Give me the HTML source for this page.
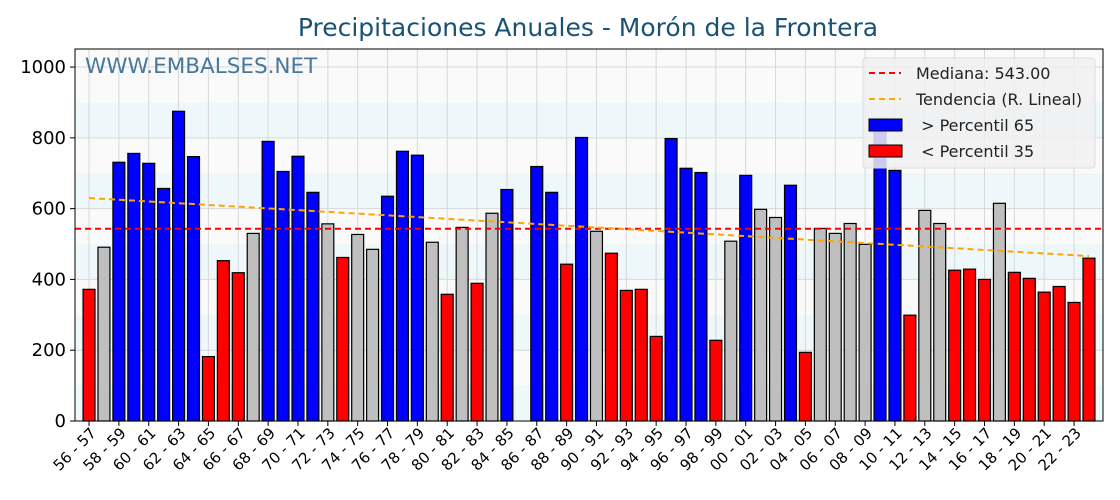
<!DOCTYPE html>
<html><head><meta charset="utf-8"><style>
html,body{margin:0;padding:0;background:#fff;}
svg{display:block;font-family:"DejaVu Sans","Liberation Sans",sans-serif;}
</style></head><body>
<svg id="chart" width="1120" height="500" viewBox="0 0 1120 500">
<text x="588" y="36" text-anchor="middle" font-size="25" fill="#1a5276">Precipitaciones Anuales - Morón de la Frontera</text>
<g id="bands"></g>
<g id="grid"></g>
<text x="85" y="73" font-size="21.5" fill="#3f7296" opacity="0.95">WWW.EMBALSES.NET</text>
<g id="bars"></g>
<g id="lines"></g>
<g id="axes"></g>
<g id="legend">
<rect x="863" y="58" width="232" height="110" rx="3" fill="#f0f0f0" fill-opacity="0.85" stroke="#dddddd"/>
<g><line x1="869" y1="73" x2="901" y2="73" stroke="#ff0000" stroke-width="2" stroke-dasharray="6,4"/><text x="916" y="79" font-size="16" fill="#222">Mediana: 543.00</text></g>
<g><line x1="869" y1="99" x2="901" y2="99" stroke="#ffa500" stroke-width="2" stroke-dasharray="6,4"/><text x="916" y="105" font-size="16" fill="#222">Tendencia (R. Lineal)</text></g>
<g><rect x="869" y="119" width="33" height="12" fill="#0000ff" stroke="#000"/><text x="916" y="131" font-size="16" fill="#222" xml:space="preserve"> &gt; Percentil 65</text></g>
<g><rect x="869" y="145" width="33" height="12" fill="#ff0000" stroke="#000"/><text x="916" y="157" font-size="16" fill="#222" xml:space="preserve"> &lt; Percentil 35</text></g>
</g>
</svg>
<script>
const years = [];
for (let y = 56; y < 124; y++) years.push(String(y % 100).padStart(2,'0') + ' - ' + String((y + 1) % 100).padStart(2,'0'));
const values = [372,491,731,756,728,657,875,747,182,453,419,530,790,705,748,646,557,462,527,485,635,762,751,505,
358,547,389,587,654,0,719,646,443,801,536,474,369,372,239,798,714,702,228,508,694,598,575,666,
194,544,530,558,499,817,708,299,595,558,426,429,400,615,420,403,364,380,335,460];
const median = [543];
const trend = [630, 466];
const yTicks = [0,200,400,600,800,1000];
const p35 = [480], p65 = [620];

const NS = 'http://www.w3.org/2000/svg';
const L = 75, R = 1103, T = 49, B = 421;
const xMin = -0.94, xMax = 67.94, yMax = 1051;
const X = i => L + (i - xMin) / (xMax - xMin) * (R - L);
const Y = v => B - v / yMax * (B - T);
function mk(tag, attrs, parent) { const e = document.createElementNS(NS, tag); for (const k in attrs) e.setAttribute(k, attrs[k]); parent.appendChild(e); return e; }
const g = id => document.getElementById(id);

mk('rect', {x:L,y:T,width:R-L,height:B-T,fill:'#fafafa'}, g('bands'));
for (let v = 0; v < 1000; v += 200) {
  const b = mk('rect', {x:L,y:Y(v+100),width:R-L,height:Y(v)-Y(v+100),fill:'#eef7fa'}, g('bands'));
  
  
}
for (let i = 0; i < values.length; i += 2) mk('line', {x1:X(i),x2:X(i),y1:T,y2:B,stroke:'#d8d8d8','stroke-width':1}, g('grid'));
yTicks.forEach(v => mk('line', {x1:L,x2:R,y1:Y(v),y2:Y(v),stroke:'#d8d8d8','stroke-width':1}, g('grid')));

values.forEach((v, i) => {
  if (v <= 0) return;
  const col = v > p65[0] ? '#0000ff' : (v < p35[0] ? '#ff0000' : '#bfbfbf');
  const r = mk('rect', {x:X(i)-0.4*14.93, y:Y(v), width:0.8*14.93, height:Y(0)-Y(v), fill:col, stroke:'#000','stroke-width':1.2}, g('bars'));
  
  
});
const ml = mk('line', {x1:L,x2:R,y1:Y(median[0]),y2:Y(median[0]),stroke:'#ff0000','stroke-width':2,'stroke-dasharray':'6,4'}, g('lines'));


const tl = mk('line', {x1:X(0),x2:X(values.length-1),y1:Y(trend[0]),y2:Y(trend[1]),stroke:'#ffa500','stroke-width':2,'stroke-dasharray':'6,4'}, g('lines'));



mk('rect', {x:L,y:T,width:R-L,height:B-T,fill:'none',stroke:'#000','stroke-width':1}, g('axes'));
yTicks.forEach(v => {
  mk('line', {x1:L-5,x2:L,y1:Y(v),y2:Y(v),stroke:'#000'}, g('axes'));
  const t = mk('text', {x:L-9,y:Y(v)+6,'text-anchor':'end','font-size':18,fill:'#000'}, g('axes'));
  t.textContent = v;
  
  
});
for (let i = 0; i < values.length - 1; i += 2) {
  mk('line', {x1:X(i),x2:X(i),y1:B,y2:B+5,stroke:'#000'}, g('axes'));
  const t = mk('text', {x:0,y:0,'text-anchor':'end','font-size':15,fill:'#000',transform:`translate(${X(i)+8},${B+13}) rotate(-45)`}, g('axes'));
  t.textContent = years[i];
  
  
}
</script>
</body></html>
